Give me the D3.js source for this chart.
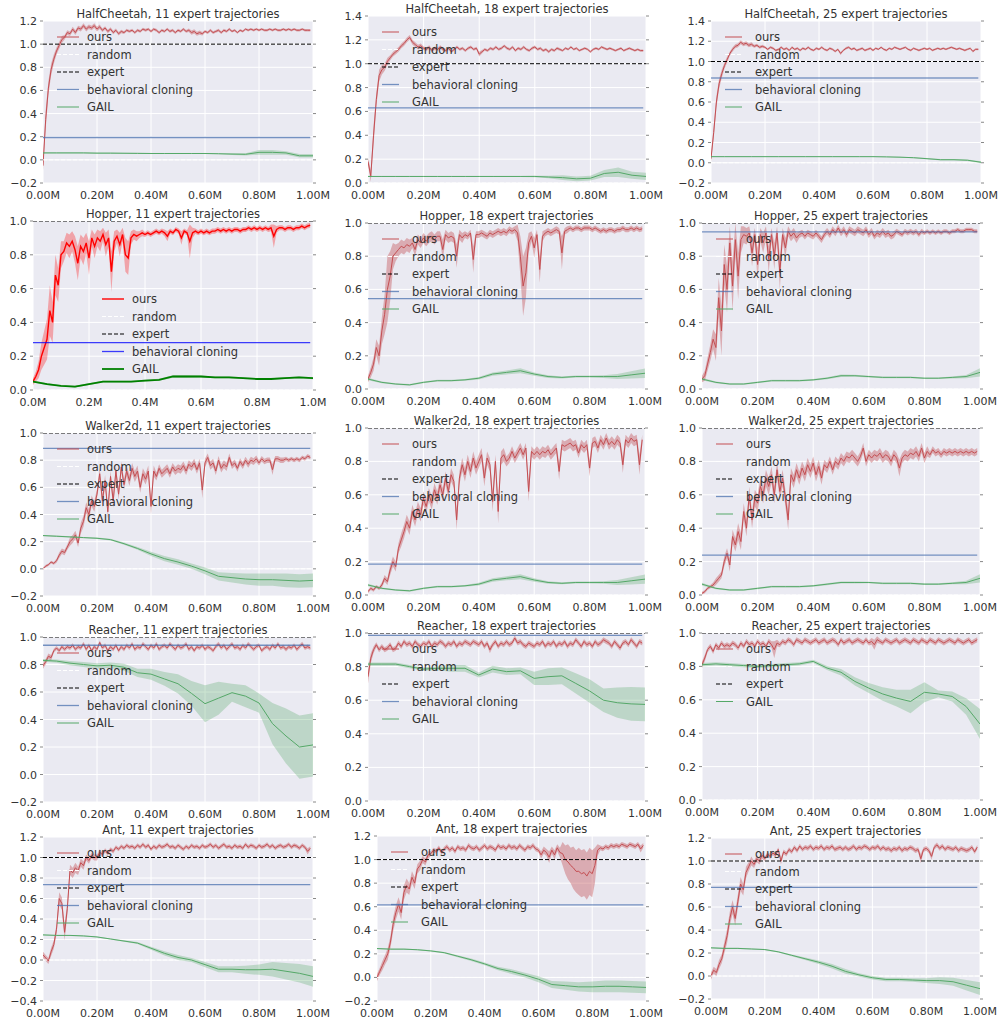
<!DOCTYPE html>
<html>
<head>
<meta charset="utf-8">
<script src="https://cdn.jsdelivr.net/npm/d3@7/dist/d3.min.js"></script>
<style>
  body { margin: 0; background: #fff; }
  text { font-family: "DejaVu Sans", sans-serif; fill: #333; }
</style>
</head>
<body>
<svg width="1000" height="1019"></svg>
<script>
// training steps (millions) for "ours", and the coarser GAIL checkpoints
const steps = [0,.01,.02,.03,.04,.05,.06,.07,.08,.09,.1,.11,.12,.13,.14,.15,.16,.17,.18,.19,
  .2,.21,.22,.23,.24,.25,.26,.27,.28,.29,.3,.31,.32,.33,.34,.35,.36,.37,.38,.39,
  .4,.41,.42,.43,.44,.45,.46,.47,.48,.49,.5,.51,.52,.53,.54,.55,.56,.57,.58,.59,
  .6,.61,.62,.63,.64,.65,.66,.67,.68,.69,.7,.71,.72,.73,.74,.75,.76,.77,.78,.79,
  .8,.81,.82,.83,.84,.85,.86,.87,.88,.89,.9,.91,.92,.93,.94,.95,.96,.97,.98,.99];
const gailSteps = [0,.05,.1,.15,.2,.25,.3,.35,.4,.45,.5,.55,.6,.65,.7,.75,.8,.85,.9,.95,1];

const titles = [
  "HalfCheetah, 11 expert trajectories", "HalfCheetah, 18 expert trajectories", "HalfCheetah, 25 expert trajectories",
  "Hopper, 11 expert trajectories", "Hopper, 18 expert trajectories", "Hopper, 25 expert trajectories",
  "Walker2d, 11 expert trajectories", "Walker2d, 18 expert trajectories", "Walker2d, 25 expert trajectories",
  "Reacher, 11 expert trajectories", "Reacher, 18 expert trajectories", "Reacher, 25 expert trajectories",
  "Ant, 11 expert trajectories", "Ant, 18 expert trajectories", "Ant, 25 expert trajectories"];
const yRanges = [[-0.2,1.2],[0,1.4],[-0.2,1.4],[0,1],[0,1],[0,1],[-0.2,1],[0,1],[0,1],
  [-0.2,1],[0,1],[0,1],[-0.4,1.2],[-0.2,1.2],[-0.2,1.2]];
const xTicks = [0,0.2,0.4,0.6,0.8,1.0];
const legendLabels = ["ours","random","expert","behavioral cloning","GAIL"];
const expertLevel = 1.0;
const randomLevel = 0.0;
// behavioral cloning level per panel (Reacher 25 has none)
const bcLevels = [0.193,0.63,0.837, 0.28,0.544,0.946, 0.887,0.185,0.239, 0.94,0.986,null, 0.735,0.616,0.77];

// ---- HalfCheetah ----
const hc11Ours = [-.05,.35,.62,.78,.87,.94,.99,1.04,1.06,1.1, 1.09,1.13,1.1,1.14,1.13,1.16,1.13,1.15,1.14,1.16,
  1.13,1.15,1.12,1.14,1.11,1.13,1.1,1.12,1.09,1.11, 1.1,1.12,1.11,1.12,1.1,1.12,1.11,1.13,1.12,1.13,
  1.11,1.13,1.12,1.1,1.12,1.11,1.13,1.11,1.12,1.1, 1.12,1.11,1.13,1.11,1.12,1.1,1.11,1.09,1.1,1.09,
  1.11,1.1,1.12,1.1,1.11,1.12,1.1,1.12,1.11,1.13, 1.11,1.12,1.1,1.12,1.11,1.13,1.12,1.13,1.12,1.13,
  1.12,1.13,1.12,1.12,1.13,1.12,1.13,1.12,1.12,1.13, 1.12,1.13,1.12,1.13,1.12,1.12,1.13,1.12,1.12,1.12];
const hc11OursSd = [.04,.08,.06,.05,.04,.03,.03,.03,.02,.02, .02,.02,.02,.02,.02,.02,.02,.02,.02,.02,
  .02,.02,.015,.015,.015,.015,.015,.015,.015,.015, .012,.012,.012,.012,.012,.012,.012,.012,.012,.012,
  .012,.012,.012,.012,.012,.012,.012,.012,.012,.012, .012,.012,.012,.012,.015,.018,.018,.018,.018,.015,
  .012,.012,.012,.012,.012,.012,.012,.012,.012,.012, .01,.01,.01,.01,.01,.01,.01,.01,.01,.01,
  .01,.01,.01,.01,.01,.01,.01,.01,.01,.01, .01,.01,.01,.01,.01,.01,.01,.01,.01,.01];
const hc11Gail = [.06,.06,.06,.06,.058,.058,.057,.056,.055,.055,.055,.055,.055,.053,.05,.048,.065,.065,.06,.035,.035];
const hc11GailSd = [.005,.005,.005,.005,.005,.005,.005,.005,.005,.005,.005,.005,.005,.005,.008,.01,.02,.02,.015,.015,.015];

const hc18Ours = [.18,.06,.4,.7,.9,.95,.97,1.02,1.05,1.08, 1.1,1.12,1.15,1.17,1.2,1.22,1.18,1.16,1.14,1.15,
  1.13,1.12,1.14,1.11,1.13,1.12,1.14,1.12,1.11,1.13, 1.1,1.12,1.14,1.12,1.13,1.11,1.13,1.14,1.12,1.13,
  1.08,1.1,1.12,1.11,1.13,1.12,1.14,1.12,1.13,1.15, 1.13,1.12,1.14,1.11,1.13,1.12,1.14,1.12,1.11,1.13,
  1.14,1.12,1.13,1.11,1.12,1.1,1.12,1.11,1.13,1.12, 1.11,1.13,1.12,1.14,1.12,1.13,1.11,1.12,1.13,1.12,
  1.1,1.12,1.13,1.12,1.14,1.13,1.12,1.13,1.12,1.11, 1.12,1.13,1.11,1.12,1.13,1.12,1.11,1.12,1.11,1.11];
const hc18OursSd = [.03,.05,.08,.06,.05,.04,.03,.03,.02,.02, .02,.02,.02,.02,.02,.02,.02,.02,.02,.02,
  .015,.015,.015,.015,.015,.015,.015,.015,.015,.015, .012,.012,.012,.012,.012,.012,.012,.012,.012,.012,
  .02,.015,.012,.012,.012,.012,.012,.012,.012,.012, .012,.012,.012,.012,.012,.012,.012,.012,.012,.012,
  .012,.012,.012,.012,.012,.012,.012,.012,.012,.012, .01,.01,.01,.01,.01,.01,.01,.01,.01,.01,
  .01,.01,.01,.01,.01,.01,.01,.01,.01,.01, .01,.01,.01,.01,.01,.01,.01,.01,.01,.01];
const hc18Gail = [.055,.055,.055,.055,.055,.055,.055,.055,.055,.055,.055,.055,.055,.05,.045,.035,.04,.08,.09,.065,.055];
const hc18GailSd = [.004,.004,.004,.004,.004,.004,.004,.004,.004,.004,.004,.004,.006,.01,.02,.02,.02,.03,.04,.03,.03];

const hc25Ours = [.04,.3,.6,.78,.88,.96,1.02,1.08,1.12,1.15, 1.16,1.19,1.17,1.18,1.16,1.17,1.15,1.16,1.14,1.15,
  1.14,1.12,1.14,1.13,1.11,1.12,1.14,1.12,1.13,1.11, 1.14,1.12,1.13,1.11,1.13,1.12,1.14,1.12,1.11,1.13,
  1.12,1.14,1.12,1.11,1.13,1.12,1.1,1.12,1.08,1.11, 1.13,1.14,1.12,1.13,1.11,1.12,1.13,1.11,1.12,1.13,
  1.11,1.13,1.12,1.14,1.12,1.11,1.13,1.12,1.14,1.13, 1.12,1.13,1.14,1.12,1.11,1.13,1.12,1.11,1.12,1.13,
  1.12,1.13,1.11,1.12,1.13,1.12,1.13,1.12,1.13,1.14, 1.13,1.12,1.13,1.12,1.11,1.12,1.13,1.1,1.12,1.12];
const hc25OursSd = [.03,.06,.06,.05,.04,.03,.03,.02,.02,.02, .02,.02,.02,.02,.02,.02,.015,.015,.015,.015,
  .012,.012,.012,.012,.012,.012,.012,.012,.012,.012, .012,.012,.012,.012,.012,.012,.012,.012,.012,.012,
  .012,.012,.012,.012,.012,.012,.012,.012,.015,.012, .012,.012,.012,.012,.012,.012,.012,.012,.012,.012,
  .01,.01,.01,.01,.01,.01,.01,.01,.01,.01, .01,.01,.01,.01,.01,.01,.01,.01,.01,.01,
  .01,.01,.01,.01,.01,.01,.01,.01,.01,.01, .01,.01,.01,.01,.01,.01,.01,.01,.01,.01];
const hc25Gail = [.06,.06,.06,.06,.06,.06,.06,.06,.06,.06,.06,.06,.06,.058,.055,.05,.04,.03,.03,.025,.005];
const hc25GailSd = [.003,.003,.003,.003,.003,.003,.003,.003,.003,.003,.003,.003,.003,.004,.005,.005,.006,.008,.008,.008,.01];

// ---- Hopper ----
const hop11Ours = [.05,.08,.12,.2,.25,.3,.47,.4,.68,.62, .8,.82,.87,.85,.88,.83,.75,.85,.82,.87,
  .78,.9,.85,.9,.88,.92,.86,.9,.7,.88, .91,.86,.92,.8,.78,.9,.92,.91,.92,.93,
  .92,.93,.92,.93,.94,.93,.94,.93,.91,.94, .93,.95,.94,.9,.94,.93,.88,.93,.94,.93,
  .94,.93,.94,.93,.94,.94,.95,.94,.95,.94, .95,.94,.95,.95,.94,.95,.95,.96,.95,.96,
  .95,.96,.95,.96,.95,.96,.91,.95,.96,.96, .95,.96,.96,.95,.96,.96,.97,.96,.97,.975];
const hop11OursSd = [.02,.03,.05,.08,.1,.12,.15,.12,.12,.1, .08,.06,.06,.07,.06,.08,.1,.07,.08,.06,
  .1,.05,.07,.05,.06,.04,.07,.05,.12,.06, .04,.07,.04,.1,.1,.04,.03,.03,.02,.02,
  .015,.015,.015,.015,.015,.015,.015,.02,.03,.015, .015,.015,.015,.04,.015,.015,.1,.03,.015,.015,
  .015,.015,.015,.015,.015,.015,.015,.015,.015,.015, .015,.015,.015,.015,.015,.015,.015,.015,.015,.015,
  .015,.015,.015,.015,.015,.02,.07,.02,.015,.015, .015,.015,.015,.015,.015,.015,.015,.015,.015,.015];
const hop11Gail = [.05,.035,.025,.02,.035,.05,.05,.05,.055,.06,.08,.08,.08,.075,.075,.07,.065,.065,.07,.075,.07];
const hop11GailSd = [.006,.005,.005,.005,.005,.005,.005,.005,.005,.006,.008,.008,.006,.005,.005,.005,.005,.005,.005,.005,.006];

const hop18Ours = [.06,.1,.15,.25,.2,.35,.45,.6,.68,.8, .82,.84,.86,.85,.87,.86,.88,.84,.9,.88,
  .91,.89,.91,.92,.9,.92,.92,.84,.93,.91, .92,.91,.8,.93,.91,.93,.92,.94,.78,.93,
  .93,.94,.93,.92,.94,.93,.94,.95,.94,.95, .94,.96,.95,.96,.94,.8,.62,.7,.88,.92,
  .85,.93,.72,.92,.94,.95,.94,.95,.96,.95, .82,.95,.96,.97,.96,.97,.97,.96,.97,.97,
  .97,.96,.97,.96,.95,.96,.95,.96,.96,.95, .96,.96,.97,.96,.96,.97,.96,.97,.96,.965];
const hop18OursSd = [.02,.03,.04,.05,.06,.08,.12,.2,.15,.08, .05,.04,.04,.04,.04,.04,.03,.04,.03,.03,
  .03,.03,.03,.03,.03,.03,.03,.06,.03,.03, .03,.03,.07,.03,.03,.02,.02,.02,.08,.02,
  .02,.02,.02,.02,.02,.02,.02,.02,.02,.02, .02,.02,.02,.02,.05,.12,.18,.15,.06,.03,
  .06,.03,.08,.03,.02,.02,.02,.02,.02,.02, .1,.02,.02,.015,.015,.015,.015,.015,.015,.015,
  .015,.015,.015,.015,.015,.015,.015,.015,.015,.015, .015,.015,.015,.015,.015,.015,.015,.015,.015,.015];
const hop18Gail = [.06,.04,.03,.025,.04,.05,.05,.055,.065,.09,.1,.11,.09,.075,.07,.075,.075,.075,.075,.085,.095];
const hop18GailSd = [.008,.005,.005,.005,.005,.005,.005,.005,.008,.01,.012,.015,.01,.008,.006,.006,.006,.008,.015,.022,.028];

const hop25Ours = [.06,.08,.15,.22,.3,.25,.55,.35,.75,.6, .88,.62,.9,.68,.9,.93,.92,.94,.82,.93,
  .75,.93,.88,.94,.78,.93,.8,.94,.7,.93, .85,.95,.92,.94,.91,.93,.94,.92,.94,.93,
  .92,.94,.92,.9,.93,.95,.93,.96,.94,.97, .94,.96,.93,.96,.95,.94,.96,.95,.94,.96,
  .93,.95,.92,.94,.93,.95,.93,.94,.92,.93, .95,.94,.93,.95,.94,.95,.94,.95,.93,.95,
  .94,.95,.94,.95,.94,.95,.94,.95,.95,.94, .95,.95,.96,.95,.95,.96,.96,.96,.95,.95];
const hop25OursSd = [.02,.03,.04,.05,.06,.08,.12,.15,.12,.14, .1,.15,.1,.14,.08,.05,.05,.04,.08,.04,
  .1,.04,.06,.04,.08,.04,.08,.04,.1,.04, .06,.03,.03,.03,.03,.02,.02,.02,.02,.02,
  .02,.02,.02,.02,.02,.02,.02,.02,.02,.02, .02,.02,.02,.02,.02,.02,.02,.02,.02,.02,
  .02,.02,.02,.02,.02,.02,.02,.02,.02,.02, .015,.015,.015,.015,.015,.015,.015,.015,.015,.015,
  .012,.012,.012,.012,.012,.012,.012,.012,.012,.012, .012,.012,.012,.012,.012,.012,.012,.012,.012,.012];
const hop25Gail = [.06,.04,.03,.03,.04,.05,.05,.05,.055,.065,.08,.08,.075,.07,.07,.07,.065,.065,.07,.075,.1];
const hop25GailSd = [.008,.005,.005,.005,.005,.005,.005,.005,.005,.006,.008,.006,.005,.005,.005,.005,.005,.005,.006,.01,.025];

// ---- Walker2d ----
const wal11Ours = [0,.02,.03,.05,.04,.06,.1,.13,.12,.16, .2,.22,.25,.19,.3,.35,.45,.4,.5,.46,
  .55,.7,.5,.65,.42,.68,.5,.72,.55,.75, .62,.72,.65,.74,.68,.72,.6,.7,.66,.72,
  .46,.72,.68,.74,.7,.72,.74,.7,.75,.72, .74,.73,.76,.72,.77,.75,.78,.73,.78,.58,
  .78,.82,.76,.78,.72,.8,.74,.77,.75,.82, .76,.78,.74,.79,.76,.8,.77,.8,.79,.81,
  .78,.81,.79,.8,.8,.73,.81,.81,.8,.8, .81,.8,.81,.8,.81,.8,.82,.81,.83,.82];
const wal11OursSd = [.01,.01,.01,.01,.01,.015,.02,.02,.02,.02, .03,.03,.03,.03,.04,.04,.04,.04,.04,.04,
  .04,.04,.05,.04,.05,.04,.05,.04,.04,.04, .04,.04,.04,.04,.04,.04,.04,.04,.04,.04,
  .06,.04,.03,.03,.03,.03,.03,.03,.03,.03, .03,.03,.03,.03,.03,.03,.03,.03,.03,.06,
  .03,.03,.03,.03,.03,.03,.03,.03,.03,.03, .025,.025,.025,.025,.025,.025,.025,.025,.025,.025,
  .02,.02,.02,.02,.02,.04,.02,.02,.02,.02, .015,.015,.015,.015,.015,.015,.015,.015,.015,.015];
const wal11Gail = [.245,.24,.235,.23,.225,.215,.185,.15,.11,.075,.05,.02,-.015,-.055,-.065,-.075,-.08,-.08,-.085,-.09,-.085];
const wal11GailSd = [.005,.005,.005,.005,.005,.006,.008,.01,.015,.02,.02,.02,.025,.03,.035,.04,.045,.045,.05,.05,.05];

const wal18Ours = [.02,.04,.03,.05,.04,.06,.1,.08,.15,.2, .17,.28,.33,.38,.44,.4,.5,.45,.52,.48,
  .58,.53,.6,.55,.63,.58,.66,.6,.7,.62, .72,.68,.45,.7,.78,.72,.8,.74,.82,.76,
  .8,.84,.7,.82,.78,.56,.8,.5,.82,.84, .8,.82,.86,.82,.85,.88,.84,.88,.62,.86,
  .84,.86,.84,.86,.85,.87,.84,.86,.88,.74, .9,.89,.9,.91,.89,.9,.85,.9,.88,.9,
  .76,.91,.92,.88,.93,.9,.94,.9,.92,.9, .93,.91,.78,.93,.91,.94,.92,.93,.78,.93];
const wal18OursSd = [.01,.01,.01,.01,.01,.015,.02,.02,.03,.03, .03,.03,.04,.04,.04,.04,.04,.04,.04,.04,
  .04,.04,.04,.04,.04,.04,.04,.04,.04,.04, .04,.04,.06,.04,.04,.04,.04,.04,.04,.04,
  .04,.04,.05,.04,.04,.06,.04,.07,.04,.04, .03,.03,.03,.03,.03,.03,.03,.03,.06,.03,
  .03,.03,.03,.03,.03,.03,.03,.03,.03,.05, .03,.03,.03,.03,.03,.03,.03,.03,.03,.03,
  .05,.03,.03,.03,.03,.03,.03,.03,.03,.03, .03,.03,.05,.03,.03,.03,.03,.03,.06,.03];
const wal18Gail = [.06,.04,.03,.025,.04,.05,.05,.055,.065,.09,.1,.11,.09,.075,.07,.075,.075,.075,.075,.085,.095];
const wal18GailSd = [.008,.005,.005,.005,.005,.005,.005,.005,.008,.01,.012,.015,.01,.008,.006,.006,.006,.008,.015,.022,.028];

const wal25Ours = [.01,.02,.04,.05,.06,.08,.1,.12,.2,.25, .18,.35,.3,.38,.32,.5,.4,.6,.45,.58,
  .55,.65,.6,.7,.65,.72,.6,.75,.62,.7, .58,.45,.72,.68,.75,.7,.76,.72,.78,.74,
  .79,.72,.77,.7,.78,.76,.8,.75,.8,.78, .82,.8,.83,.82,.84,.82,.8,.83,.88,.8,
  .84,.82,.84,.83,.85,.82,.84,.83,.8,.84, .82,.76,.82,.84,.83,.85,.84,.86,.83,.88,
  .82,.86,.84,.87,.85,.86,.84,.86,.85,.86, .85,.86,.85,.86,.85,.86,.85,.86,.85,.86];
const wal25OursSd = [.01,.01,.01,.01,.015,.02,.02,.02,.03,.03, .04,.04,.04,.05,.05,.05,.05,.05,.05,.05,
  .05,.05,.05,.05,.05,.05,.05,.05,.05,.05, .05,.06,.04,.04,.04,.04,.04,.04,.04,.04,
  .04,.04,.04,.04,.03,.03,.03,.03,.03,.03, .03,.03,.03,.03,.03,.03,.03,.03,.03,.03,
  .03,.03,.03,.03,.03,.03,.03,.03,.03,.03, .03,.05,.03,.03,.03,.03,.03,.03,.03,.03,
  .03,.03,.02,.02,.02,.02,.02,.02,.02,.02, .02,.02,.02,.02,.02,.02,.02,.02,.02,.02];
const wal25Gail = [.065,.04,.03,.03,.04,.05,.05,.05,.055,.065,.075,.075,.075,.07,.07,.07,.065,.065,.07,.075,.1];
const wal25GailSd = [.008,.005,.005,.005,.005,.005,.005,.005,.005,.006,.006,.006,.005,.005,.005,.005,.005,.005,.006,.01,.025];

// ---- Reacher ----
const rea11Ours = [.79,.82,.86,.85,.9,.92,.9,.93,.91,.93, .92,.94,.91,.93,.92,.95,.91,.94,.9,.93,
  .91,.96,.92,.94,.9,.93,.91,.94,.9,.93, .91,.94,.92,.95,.91,.93,.92,.95,.93,.91,
  .94,.92,.95,.91,.93,.94,.92,.95,.93,.91, .94,.92,.93,.95,.91,.93,.9,.93,.92,.94,
  .91,.93,.92,.9,.93,.95,.92,.94,.91,.93, .95,.92,.93,.91,.94,.92,.95,.93,.91,.93,
  .94,.9,.92,.93,.91,.94,.92,.95,.92,.93, .91,.93,.92,.94,.91,.93,.95,.92,.93,.92];
const rea11OursSd = [.02,.02,.02,.02,.015,.015,.015,.015,.015,.015, .015,.015,.015,.015,.015,.015,.015,.015,.015,.015,
  .015,.015,.015,.015,.015,.015,.015,.015,.015,.015, .015,.015,.015,.015,.015,.015,.015,.015,.015,.015,
  .015,.015,.015,.015,.015,.015,.015,.015,.015,.015, .015,.015,.015,.015,.015,.015,.015,.015,.015,.015,
  .015,.015,.015,.015,.015,.015,.015,.015,.015,.015, .015,.015,.015,.015,.015,.015,.015,.015,.015,.015,
  .015,.015,.015,.015,.015,.015,.015,.015,.015,.015, .015,.015,.015,.015,.015,.015,.015,.015,.015,.015];
const rea11Gail = [.83,.825,.81,.8,.79,.795,.78,.74,.73,.695,.66,.59,.515,.555,.595,.57,.52,.37,.28,.2,.215];
const rea11GailSd = [.01,.012,.015,.018,.02,.02,.025,.03,.04,.05,.07,.09,.135,.12,.065,.08,.07,.15,.2,.23,.23];

const rea18Ours = [.74,.85,.9,.93,.9,.92,.9,.91,.93,.9, .91,.94,.92,.95,.93,.94,.92,.95,.93,.92,
  .94,.93,.95,.92,.94,.93,.95,.94,.92,.94, .93,.95,.92,.94,.93,.95,.94,.93,.95,.94,
  .93,.95,.92,.94,.9,.93,.95,.92,.94,.93, .95,.93,.94,.97,.94,.95,.93,.92,.94,.93,
  .92,.94,.93,.95,.92,.94,.93,.95,.92,.94, .93,.95,.92,.94,.93,.96,.94,.92,.95,.93,
  .94,.92,.95,.93,.94,.96,.95,.94,.92,.95, .93,.91,.94,.95,.93,.96,.94,.92,.95,.94];
const rea18OursSd = [.04,.03,.02,.015,.015,.015,.015,.015,.015,.015, .015,.015,.015,.015,.015,.015,.015,.015,.015,.015,
  .015,.015,.015,.015,.015,.015,.015,.015,.015,.015, .015,.015,.015,.015,.015,.015,.015,.015,.015,.015,
  .015,.015,.015,.015,.02,.015,.015,.015,.015,.015, .015,.015,.015,.015,.015,.015,.015,.015,.015,.015,
  .015,.015,.015,.015,.015,.015,.015,.015,.015,.015, .015,.015,.015,.015,.015,.015,.015,.015,.015,.015,
  .015,.015,.015,.015,.015,.015,.015,.015,.015,.015, .015,.015,.015,.015,.015,.015,.015,.015,.015,.015];
const rea18Gail = [.815,.815,.815,.8,.785,.79,.79,.79,.75,.785,.77,.775,.73,.74,.745,.7,.655,.6,.585,.578,.575];
const rea18GailSd = [.01,.01,.01,.01,.01,.012,.02,.02,.015,.02,.02,.02,.04,.05,.05,.06,.07,.07,.09,.1,.1];

const rea25Ours = [.81,.85,.9,.92,.89,.93,.91,.94,.92,.93, .92,.94,.93,.91,.94,.92,.95,.93,.94,.92,
  .95,.93,.94,.92,.95,.93,.9,.94,.93,.95, .94,.96,.95,.93,.96,.95,.94,.96,.95,.94,
  .95,.96,.94,.95,.96,.94,.95,.96,.95,.93, .96,.94,.95,.96,.94,.95,.96,.95,.94,.96,
  .94,.95,.93,.96,.95,.94,.96,.95,.94,.95, .96,.94,.95,.96,.95,.94,.96,.95,.94,.96,
  .95,.94,.96,.95,.94,.96,.95,.94,.95,.96, .95,.94,.96,.95,.94,.95,.96,.94,.95,.96];
const rea25OursSd = [.02,.02,.015,.015,.015,.015,.015,.015,.015,.015, .015,.015,.015,.015,.015,.015,.015,.015,.015,.015,
  .015,.015,.015,.015,.015,.02,.05,.02,.015,.015, .015,.015,.015,.015,.015,.015,.015,.015,.015,.015,
  .015,.015,.015,.015,.015,.015,.015,.015,.015,.015, .015,.015,.015,.015,.015,.015,.015,.015,.015,.015,
  .015,.02,.03,.02,.015,.015,.015,.015,.015,.015, .015,.015,.015,.015,.015,.015,.015,.015,.015,.015,
  .015,.015,.015,.015,.015,.015,.015,.015,.015,.015, .015,.015,.015,.015,.015,.015,.015,.015,.015,.015];
const rea25Gail = [.81,.815,.81,.805,.8,.805,.81,.815,.83,.79,.765,.71,.67,.635,.61,.59,.645,.635,.62,.56,.455];
const rea25GailSd = [.01,.01,.01,.01,.01,.01,.01,.01,.01,.012,.02,.025,.03,.04,.05,.07,.06,.02,.03,.05,.09];

// ---- Ant ----
const ant11Ours = [.05,.02,-.01,.08,.15,.3,.6,.55,.27,.5, .88,.85,.9,.87,.95,.92,1.0,.97,1.02,1.0,
  1.0,1.05,1.03,1.07,1.04,1.08,1.06,1.1,1.08,1.11, 1.09,1.12,1.1,1.11,1.09,1.12,1.1,1.13,1.1,1.12,
  1.08,1.11,1.09,1.12,1.1,1.11,1.13,1.1,1.11,1.09, 1.12,1.1,1.08,1.11,1.09,1.12,1.1,1.11,1.09,1.12,
  1.1,1.11,1.13,1.1,1.12,1.09,1.11,1.13,1.1,1.11, 1.09,1.12,1.1,1.11,1.09,1.13,1.1,1.12,1.11,1.09,
  1.12,1.1,1.11,1.13,1.1,1.12,1.09,1.11,1.12,1.1, 1.11,1.13,1.1,1.12,1.11,1.09,1.12,1.1,1.06,1.09];
const ant11OursSd = [.03,.03,.03,.04,.04,.05,.06,.06,.08,.06, .05,.05,.05,.04,.04,.04,.03,.03,.03,.03,
  .03,.03,.02,.02,.02,.02,.02,.02,.02,.02, .02,.02,.02,.02,.02,.02,.02,.02,.02,.02,
  .02,.02,.02,.02,.02,.02,.02,.02,.02,.02, .02,.02,.02,.02,.02,.02,.02,.02,.02,.02,
  .02,.02,.02,.02,.02,.02,.02,.02,.02,.02, .02,.02,.02,.02,.02,.02,.02,.02,.02,.02,
  .02,.02,.02,.02,.02,.02,.02,.02,.02,.02, .02,.02,.02,.02,.02,.02,.02,.02,.03,.02];
const ant11Gail = [.245,.24,.24,.235,.225,.205,.185,.165,.115,.065,.025,0,-.045,-.09,-.09,-.095,-.095,-.09,-.11,-.13,-.16];
const ant11GailSd = [.005,.005,.005,.005,.005,.005,.008,.01,.015,.02,.025,.02,.025,.03,.03,.04,.05,.07,.08,.09,.1];

const ant18Ours = [0,.05,.1,.15,.2,.3,.45,.55,.62,.55, .72,.78,.75,.85,.8,.92,.95,1.0,.98,1.04,
  1.05,1.08,1.07,1.1,1.06,1.09,1.11,1.08,1.1,1.07, 1.11,1.09,1.1,1.08,1.12,1.1,1.09,1.11,1.08,1.1,
  1.12,1.09,1.11,1.1,1.08,1.12,1.1,1.11,1.09,1.12, 1.1,1.11,1.09,1.12,1.1,1.08,1.11,1.1,1.12,1.09,
  1.08,1.04,1.08,1.06,1.02,1.08,1.04,1.1,1.06,1.05, 1.0,.98,.95,.93,.9,.9,.88,.89,.86,.9,
  .88,.95,1.08,1.1,1.09,1.11,1.1,1.12,1.11,1.12, 1.11,1.13,1.12,1.11,1.13,1.12,1.11,1.13,1.09,1.12];
const ant18OursSd = [.03,.03,.04,.04,.05,.05,.06,.06,.06,.06, .06,.06,.05,.05,.05,.04,.04,.03,.03,.03,
  .02,.02,.02,.02,.02,.02,.02,.02,.02,.02, .02,.02,.02,.02,.02,.02,.02,.02,.02,.02,
  .02,.02,.02,.02,.02,.02,.02,.02,.02,.02, .02,.02,.02,.02,.02,.02,.02,.02,.02,.02,
  .02,.03,.03,.03,.05,.03,.04,.03,.04,.1, .12,.15,.15,.18,.18,.2,.2,.2,.2,.2,
  .2,.15,.05,.02,.02,.02,.02,.02,.02,.02, .02,.02,.02,.02,.02,.02,.02,.02,.03,.02];
const ant18Gail = [.245,.24,.24,.235,.225,.21,.18,.15,.115,.075,.05,.02,-.015,-.06,-.07,-.08,-.08,-.075,-.075,-.08,-.085];
const ant18GailSd = [.005,.005,.005,.005,.005,.006,.008,.01,.012,.015,.02,.02,.025,.03,.035,.04,.045,.05,.05,.05,.05];

const ant25Ours = [0,.05,.03,.1,.15,.25,.35,.5,.6,.5, .65,.8,.75,.9,.95,1.0,.97,1.02,1.0,1.05,
  1.02,1.06,1.04,1.07,1.05,1.1,1.0,1.08,1.06,1.1, 1.08,1.12,1.09,1.13,1.1,1.12,1.11,1.13,1.1,1.12,
  1.11,1.13,1.1,1.12,1.11,1.13,1.1,1.11,1.12,1.1, 1.12,1.1,1.11,1.13,1.1,1.12,1.11,1.13,1.12,1.1,
  1.12,1.11,1.13,1.1,1.12,1.1,1.11,1.09,1.11,1.1, 1.12,1.09,1.11,1.1,1.12,1.11,1.09,1.1,1.02,1.1,
  1.11,1.09,1.04,1.12,1.14,1.11,1.13,1.1,1.12,1.11, 1.1,1.12,1.09,1.11,1.1,1.09,1.1,1.12,1.08,1.12];
const ant25OursSd = [.03,.03,.03,.04,.04,.05,.06,.06,.06,.06, .06,.06,.05,.05,.04,.04,.03,.03,.03,.03,
  .02,.02,.02,.02,.02,.02,.03,.02,.02,.02, .02,.02,.02,.02,.02,.02,.02,.02,.02,.02,
  .02,.02,.02,.02,.02,.02,.02,.02,.02,.02, .02,.02,.02,.02,.02,.02,.02,.02,.02,.02,
  .02,.02,.02,.02,.02,.02,.02,.02,.02,.02, .02,.02,.02,.02,.02,.02,.02,.02,.04,.02,
  .02,.02,.03,.02,.02,.02,.02,.02,.02,.02, .02,.02,.02,.02,.02,.02,.02,.02,.02,.02];
const ant25Gail = [.245,.24,.24,.235,.23,.21,.18,.15,.12,.085,.04,.01,-.015,-.03,-.03,-.035,-.04,-.04,-.05,-.08,-.11];
const ant25GailSd = [.005,.005,.005,.005,.005,.005,.008,.01,.015,.02,.02,.015,.015,.015,.015,.015,.02,.03,.035,.045,.055];

const oursSeries = [hc11Ours,hc18Ours,hc25Ours,hop11Ours,hop18Ours,hop25Ours,wal11Ours,wal18Ours,wal25Ours,
  rea11Ours,rea18Ours,rea25Ours,ant11Ours,ant18Ours,ant25Ours];
const oursSdSeries = [hc11OursSd,hc18OursSd,hc25OursSd,hop11OursSd,hop18OursSd,hop25OursSd,wal11OursSd,wal18OursSd,wal25OursSd,
  rea11OursSd,rea18OursSd,rea25OursSd,ant11OursSd,ant18OursSd,ant25OursSd];
const gailSeries = [hc11Gail,hc18Gail,hc25Gail,hop11Gail,hop18Gail,hop25Gail,wal11Gail,wal18Gail,wal25Gail,
  rea11Gail,rea18Gail,rea25Gail,ant11Gail,ant18Gail,ant25Gail];
const gailSdSeries = [hc11GailSd,hc18GailSd,hc25GailSd,hop11GailSd,hop18GailSd,hop25GailSd,wal11GailSd,wal18GailSd,wal25GailSd,
  rea11GailSd,rea18GailSd,rea25GailSd,ant11GailSd,ant18GailSd,ant25GailSd];

// ---- layout: plot boxes [left, right, top, bottom] in page pixels ----
const boxes = [
  [43,313,21,183],[368,646,16,183],[711,981,21,183],
  [33,313,221,390],[368,645,223,389],[702,980,223,389],
  [43,313,433,596],[368,645,428,595],[702,980,428,595],
  [43,313,637,802],[368,645,633,801],[702,980,633,800],
  [43,313,837,1001],[377,646,836,1001],[711,980,838,999]];

const seaborn = { ours: "#c44e52", bc: "#4c72b0", gail: "#55a868", lw: 1, xfmt: 2 };
const classic = { ours: "#ff0000", bc: "#0000ff", gail: "#008000", lw: 1.4, xfmt: 1 };

const svg = d3.select("svg");

function drawPanel(i) {
  const [l, r, t, b] = boxes[i];
  const w = r - l, h = b - t;
  const st = i === 3 ? classic : seaborn;
  const col = i % 3;
  const x = d3.scaleLinear().domain([0, 1]).range([0, w]);
  const [y0, y1] = yRanges[i];
  const y = d3.scaleLinear().domain([y0, y1]).range([h, 0]);
  const yTicks = d3.ticks(y0, y1, Math.round((y1 - y0) / 0.2));

  const g = svg.append("g").attr("transform", `translate(${l},${t})`);
  g.append("rect").attr("width", w).attr("height", h).attr("fill", "#eaeaf2");

  // white grid
  g.selectAll(".gy").data(yTicks).enter().append("line")
    .attr("x1", 0).attr("x2", w).attr("y1", d => y(d)).attr("y2", d => y(d))
    .attr("stroke", "#fff").attr("stroke-width", 1);
  g.selectAll(".gx").data(xTicks).enter().append("line")
    .attr("y1", 0).attr("y2", h).attr("x1", d => x(d)).attr("x2", d => x(d))
    .attr("stroke", "#fff").attr("stroke-width", 1);

  g.append("clipPath").attr("id", "clip" + i).append("rect").attr("width", w).attr("height", h);
  const plot = g.append("g").attr("clip-path", `url(#clip${i})`);

  const ours = steps.map((s, k) => ({ x: s, v: oursSeries[i][k], sd: oursSdSeries[i][k] }));
  const gail = gailSteps.map((s, k) => ({ x: s, v: gailSeries[i][k], sd: gailSdSeries[i][k] }));
  const band = d3.area().x(d => x(d.x)).y0(d => y(d.v - d.sd)).y1(d => y(d.v + d.sd));
  const line = d3.line().x(d => x(d.x)).y(d => y(d.v));

  plot.append("path").datum(ours).attr("d", band)
    .attr("fill", st.ours).attr("opacity", i === 3 ? 0.3 : 0.4);
  plot.append("path").datum(ours).attr("d", line)
    .attr("fill", "none").attr("stroke", st.ours).attr("stroke-width", st.lw);

  // random (white dashed) and expert (black dashed)
  plot.append("line").attr("x1", x(0)).attr("x2", x(1)).attr("y1", y(randomLevel)).attr("y2", y(randomLevel))
    .attr("stroke", "#fff").attr("stroke-width", 1).attr("stroke-dasharray", "4,2");
  plot.append("line").attr("x1", x(0)).attr("x2", x(1)).attr("y1", y(expertLevel)).attr("y2", y(expertLevel))
    .attr("stroke", "#000").attr("stroke-width", 1).attr("stroke-dasharray", "4,2");

  if (bcLevels[i] !== null) {
    plot.append("line").attr("x1", x(0)).attr("x2", x(steps[steps.length - 1]))
      .attr("y1", y(bcLevels[i])).attr("y2", y(bcLevels[i]))
      .attr("stroke", st.bc).attr("stroke-width", i === 2 ? 2 : 1.3).attr("opacity", i === 2 ? 0.5 : 0.75);
  }

  plot.append("path").datum(gail).attr("d", band).attr("fill", st.gail).attr("opacity", 0.3);
  plot.append("path").datum(gail).attr("d", line)
    .attr("fill", "none").attr("stroke", st.gail).attr("stroke-width", i === 3 ? 1.8 : 1);

  // tick marks and labels
  yTicks.forEach(v => {
    g.append("line").attr("x1", -3).attr("x2", 0).attr("y1", y(v)).attr("y2", y(v)).attr("stroke", "#888");
    g.append("line").attr("x1", w).attr("x2", w + 3).attr("y1", y(v)).attr("y2", y(v)).attr("stroke", "#888");
  });
  const yFmt = d3.format(".1f");
  g.selectAll(".yl").data(yTicks).enter().append("text")
    .attr("x", -6).attr("y", d => y(d) + 4).attr("text-anchor", "end")
    .attr("font-size", 11).text(d => yFmt(d));
  g.selectAll(".xl").data(xTicks).enter().append("text")
    .attr("x", d => x(d)).attr("y", h + 15.5).attr("text-anchor", "middle")
    .attr("font-size", 11).text(d => d.toFixed(st.xfmt) + "M");

  g.append("text").attr("x", w / 2).attr("y", -3).attr("text-anchor", "middle")
    .attr("font-size", 11.5).text(titles[i]);

  // legend
  const [lx, ly] = i === 3 ? [69, 78] : [14, 16];
  const hl = col === 0 ? 22 : 17;
  const items = legendLabels
    .map((lab, k) => ({ lab, k }))
    .filter(d => !(d.k === 3 && bcLevels[i] === null));
  items.forEach((d, row) => {
    const yy = ly + row * 17.5;
    const handle = g.append("line").attr("x1", lx).attr("x2", lx + hl).attr("y1", yy).attr("y2", yy);
    if (d.k === 0) handle.attr("stroke", st.ours).attr("stroke-width", st.lw);
    if (d.k === 1) handle.attr("stroke", "#fff").attr("stroke-dasharray", "4,2");
    if (d.k === 2) handle.attr("stroke", "#000").attr("stroke-dasharray", "4,2");
    if (d.k === 3) handle.attr("stroke", st.bc).attr("stroke-width", 1.3).attr("opacity", 0.75);
    if (d.k === 4) handle.attr("stroke", st.gail).attr("stroke-width", i === 3 ? 1.8 : 1);
    g.append("text").attr("x", lx + 30).attr("y", yy + 4).attr("font-size", 11.5).text(d.lab);
  });
}

d3.range(15).forEach(drawPanel);
</script>
</body>
</html>
